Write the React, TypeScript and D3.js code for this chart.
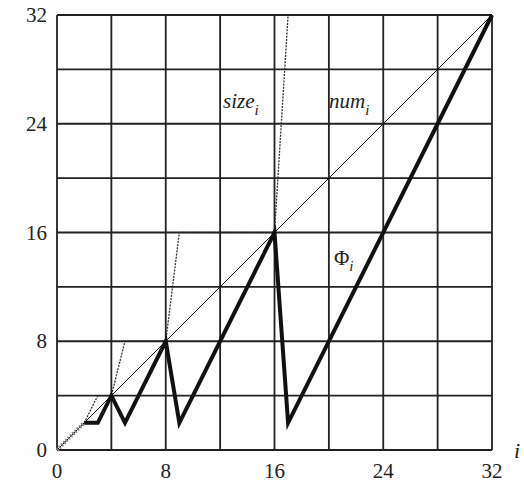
import React from "react";
import * as d3 from "d3";

// values
const gridSteps = [0, 4, 8, 12, 16, 20, 24, 28, 32];
const tickLabels = [0, 8, 16, 24, 32];

const iVals = [0, 2, 3, 4, 5, 8, 9, 16, 17, 32];
const sizeVals = [0, 2, 4, 4, 8, 8, 16, 16, 32, 32];
const phiVals = [0, 2, 2, 4, 2, 8, 2, 16, 2, 32];
const numI = [0, 32];
const numVals = [0, 32];

const W = 524;
const H = 485;
const txt = { fontFamily: "'Liberation Serif', 'Times New Roman', serif", fill: "#222" };

export default function App() {
  const x = d3.scaleLinear().domain([0, 32]).range([57, 492]);
  const y = d3.scaleLinear().domain([0, 32]).range([450, 15]);

  const line = d3
    .line<[number, number]>()
    .x((d) => x(d[0]))
    .y((d) => y(d[1]));

  const sizePts = iVals.map((d, k) => [d, sizeVals[k]] as [number, number]);
  const phiPts = iVals.map((d, k) => [d, phiVals[k]] as [number, number]);
  const numPts = numI.map((d, k) => [d, numVals[k]] as [number, number]);

  // first stretch of phi (0..2) is printed as a grey ladder in the book figure
  const phiHead = phiPts.slice(0, 2);
  const phiTail = phiPts.slice(1);

  return (
    <svg width={W} height={H} style={{ position: "absolute", left: 0, top: 0 }}>
      <rect width={W} height={H} fill="white" />
      {/* size drawn under the grid so its flat runs hide in the grid lines */}
      <path d={line(sizePts) || ""} fill="none" stroke="#333" strokeWidth={1.3} strokeDasharray="2,1.2" />
      {gridSteps.map((g) => (
        <g key={g}>
          <line x1={x(g)} x2={x(g)} y1={y(0)} y2={y(32)} stroke="#222" strokeWidth={1.8} />
          <line x1={x(0)} x2={x(32)} y1={y(g)} y2={y(g)} stroke="#222" strokeWidth={1.8} />
        </g>
      ))}

      <path d={line(numPts) || ""} fill="none" stroke="#111" strokeWidth={1} />
      <path d={line(phiHead) || ""} fill="none" stroke="#888" strokeWidth={4} strokeDasharray="1.6,1.6" />
      <path d={line(phiTail) || ""} fill="none" stroke="#111" strokeWidth={4} strokeLinejoin="miter" />

      {tickLabels.map((t) => (
        <text key={"y" + t} x={47} y={y(t) + 7} textAnchor="end" fontSize={21} style={txt}>
          {t}
        </text>
      ))}
      {tickLabels.map((t) => (
        <text key={"x" + t} x={x(t)} y={478} textAnchor="middle" fontSize={21} style={txt}>
          {t}
        </text>
      ))}
      <text x={514} y={458} fontSize={22} fontStyle="italic" style={txt}>
        i
      </text>

      <text x={223} y={108} fontSize={21} fontStyle="italic" style={txt}>
        size
        <tspan fontSize={15} dy={7}>i</tspan>
      </text>
      <text x={329} y={108} fontSize={21} fontStyle="italic" style={txt}>
        num
        <tspan fontSize={15} dy={7}>i</tspan>
      </text>
      <text x={334} y={265} fontSize={21} style={txt}>
        Φ
        <tspan fontSize={15} dy={6} fontStyle="italic">i</tspan>
      </text>
    </svg>
  );
}
